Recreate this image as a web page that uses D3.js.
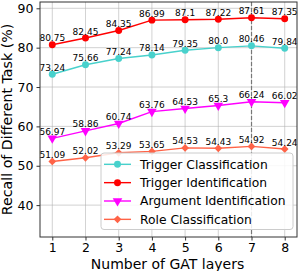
<!DOCTYPE html>
<html>
<head>
<meta charset="utf-8">
<script src="https://cdn.jsdelivr.net/npm/d3@7"></script>
<style>
  body { margin: 0; background: #fff; }
  text { font-family: "DejaVu Sans", sans-serif; }
</style>
</head>
<body>
<div id="chart"></div>
<script>
const layers = [1, 2, 3, 4, 5, 6, 7, 8];
const triggerCls = [73.24, 75.66, 77.24, 78.14, 79.35, 80.0, 80.46, 79.84];
const triggerIdf = [80.75, 82.45, 84.35, 86.99, 87.1, 87.22, 87.61, 87.35];
const argumentIdf = [56.97, 58.86, 60.74, 63.76, 64.53, 65.3, 66.24, 66.02];
const roleCls = [51.09, 52.02, 53.29, 53.65, 54.53, 54.43, 54.92, 54.24];
const yTicks = [40, 50, 60, 70, 80, 90];
const bestLayer = 7;

const series = [
  { name: 'Trigger Classification', values: triggerCls, color: '#48d1cc', marker: 'circle' },
  { name: 'Trigger Identification', values: triggerIdf, color: '#ff0000', marker: 'circle' },
  { name: 'Argument Identification', values: argumentIdf, color: '#ff00ff', marker: 'triangle' },
  { name: 'Role Classification', values: roleCls, color: '#ff6347', marker: 'diamond' },
];

const W = 300, H = 271;
const margin = { top: 2, right: 3, bottom: 34, left: 40 };
const width = W - margin.left - margin.right;
const height = H - margin.top - margin.bottom;

const svg = d3.select('#chart').append('svg')
  .attr('width', W).attr('height', H);

const chart = svg.append('g')
  .attr('transform', `translate(${margin.left},${margin.top})`);

const x = d3.scaleLinear().domain([0.63, 8.37]).range([0, width]);
const y = d3.scaleLinear().domain([31.9, 91.6]).range([height, 0]);

// matplotlib keeps the trailing ".0" (80.0)
const fmt = v => Number.isInteger(v) ? v.toFixed(1) : String(v);

// grid
chart.append('g').selectAll('line').data(layers).join('line')
  .attr('x1', d => x(d)).attr('x2', d => x(d))
  .attr('y1', 0).attr('y2', height)
  .attr('stroke', '#b0b0b0').attr('stroke-width', 0.8).attr('opacity', 0.7);
chart.append('g').selectAll('line').data(yTicks).join('line')
  .attr('x1', 0).attr('x2', width)
  .attr('y1', d => y(d)).attr('y2', d => y(d))
  .attr('stroke', '#b0b0b0').attr('stroke-width', 0.8).attr('opacity', 0.7);

// dashed marker at best layer
chart.append('line')
  .attr('x1', x(bestLayer)).attr('x2', x(bestLayer))
  .attr('y1', 0).attr('y2', height)
  .attr('stroke', '#777').attr('stroke-width', 1.2)
  .attr('stroke-dasharray', '4,2');

const line = d3.line().x((d, i) => x(layers[i])).y(d => y(d));

const symbolFor = m => m === 'triangle'
  ? d3.symbol().type(d3.symbolTriangle).size(40)
  : m === 'diamond'
    ? d3.symbol().type(d3.symbolSquare).size(30)
    : d3.symbol().type(d3.symbolCircle).size(38);

function drawMarker(g, s) {
  const p = g.append('path').attr('d', symbolFor(s.marker)()).attr('fill', s.color);
  if (s.marker === 'triangle') p.attr('transform', 'rotate(180)');
  if (s.marker === 'diamond') p.attr('transform', 'rotate(45)');
  return p;
}

series.forEach(s => {
  chart.append('path').datum(s.values)
    .attr('d', line).attr('fill', 'none')
    .attr('stroke', s.color).attr('stroke-width', 1.4);
  s.values.forEach((v, i) => {
    const g = chart.append('g').attr('transform', `translate(${x(layers[i])},${y(v)})`);
    drawMarker(g, s);
    chart.append('text')
      .attr('x', x(layers[i])).attr('y', y(v) - 3.5)
      .attr('text-anchor', 'middle')
      .attr('font-size', 9).attr('fill', '#000')
      .text(fmt(v));
  });
});

// frame
chart.append('rect').attr('width', width).attr('height', height)
  .attr('fill', 'none').attr('stroke', '#333').attr('stroke-width', 1);

// axes ticks + labels
const xAxis = chart.append('g').attr('transform', `translate(0,${height})`)
  .call(d3.axisBottom(x).tickValues(layers).tickSize(3.5).tickFormat(d3.format('d')));
const yAxis = chart.append('g')
  .call(d3.axisLeft(y).tickValues(yTicks).tickSize(3.5));
[xAxis, yAxis].forEach(a => {
  a.select('.domain').remove();
  a.selectAll('text').attr('font-size', 12.5).attr('fill', '#000')
    .style('font-family', '"DejaVu Sans", sans-serif');
  a.selectAll('line').attr('stroke', '#333');
});

svg.append('text')
  .attr('x', margin.left + width / 2 - 1).attr('y', 268.5)
  .attr('text-anchor', 'middle').attr('font-size', 14)
  .text('Number of GAT layers');
svg.append('text')
  .attr('transform', `translate(11.5,${margin.top + height / 2}) rotate(-90)`)
  .attr('text-anchor', 'middle').attr('font-size', 14.2)
  .text('Recall of Different Task (%)');

// legend
const lg = svg.append('g').attr('transform', 'translate(101,153)');
lg.append('rect').attr('width', 192).attr('height', 76.5).attr('rx', 3)
  .attr('fill', '#fff').attr('fill-opacity', 0.85)
  .attr('stroke', '#ccc').attr('stroke-width', 1);
series.forEach((s, i) => {
  const row = lg.append('g').attr('transform', `translate(0,${11.3 + i * 18.35})`);
  row.append('line').attr('x1', 3).attr('x2', 30)
    .attr('stroke', s.color).attr('stroke-width', 1.4);
  drawMarker(row.append('g').attr('transform', 'translate(16.5,0)'), s);
  row.append('text').attr('x', 39).attr('y', 4.4)
    .attr('font-size', 12.3).text(s.name);
});
</script>
</body>
</html>
